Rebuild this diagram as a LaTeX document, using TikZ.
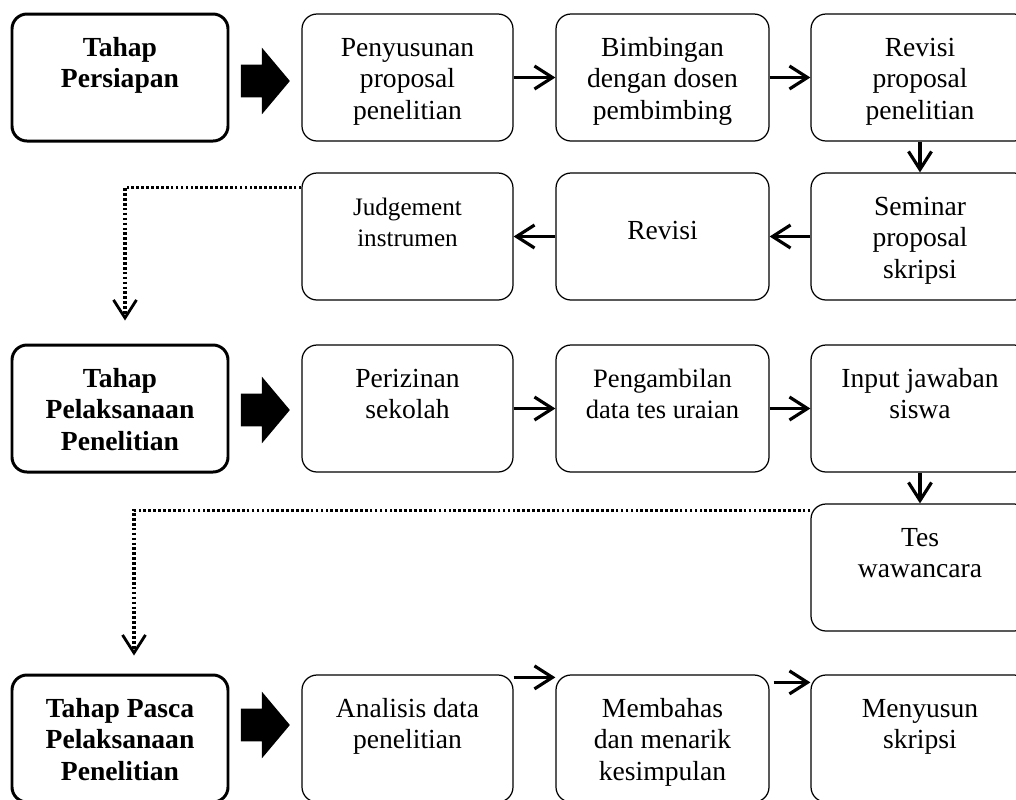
\documentclass[tikz,border=0pt]{standalone}
\usepackage{fontspec}
\setmainfont{Liberation Serif}
\usetikzlibrary{arrows.meta,calc,shapes.arrows}

% text block, top aligned in a box
\newcommand{\boxtxt}[1]{\vbox to 1.75cm{\hsize=4.1cm\parindent=0pt\centering\strut#1\par\vss}}

\begin{document}
\begin{tikzpicture}[
    font=\fontsize{15.7}{18.1}\selectfont,
    stepbox/.style={draw=black, rounded corners=0.3cm, line width=0.7pt, minimum height=2.54cm, minimum width=4.26cm, inner sep=0pt},
    phasebox/.style={stepbox, line width=1.7pt, minimum width=4.32cm, font=\fontsize{15.7}{18.1}\selectfont\bfseries},
    arrow/.style={-{Straight Barb[length=3.6mm,width=4.6mm]}, line width=1.8pt},
    dotarrow/.style={-{Straight Barb[length=3.6mm,width=4.6mm,line width=1.6pt]}, line width=1.9pt, dash pattern=on 1.5pt off 1.3pt},
    bigarrow/.style={single arrow, fill=black, draw=none, minimum height=0.98cm, single arrow head extend=0.34cm, single arrow tip angle=100, inner xsep=0pt, inner ysep=0.32cm}
]
\useasboundingbox (0,0) rectangle (20.32,-15.98);
\clip (0,0) rectangle (20.32,-15.98);

% persiapan
\node[phasebox] (tprs) at (2.40,-1.55) {\boxtxt{Tahap\\Persiapan}};
\node[stepbox, minimum width=4.22cm] (pen) at (8.15,-1.55) {\boxtxt{Penyusunan\\proposal\\penelitian}};
\node[stepbox] (bimb) at (13.25,-1.55) {\boxtxt{Bimbingan\\dengan dosen\\pembimbing}};
\node[stepbox, minimum width=4.36cm] (revp) at (18.40,-1.55) {\boxtxt{Revisi\\proposal\\penelitian}};
\node[stepbox, minimum width=4.36cm] (sem) at (18.40,-4.73) {\boxtxt{Seminar\\proposal\\skripsi}};
\node[stepbox] (rev) at (13.25,-4.73) {\raisebox{0.24cm}{Revisi}};
\node[stepbox, minimum width=4.22cm, font=\fontsize{14.3}{18.1}\selectfont] (judg) at (8.15,-4.73) {\boxtxt{Judgement\\instrumen}};
\node[bigarrow] (ar1) at (5.17,-1.62) {};
\draw[arrow] (pen.east) -- (bimb.west);
\draw[arrow] (bimb.east) -- (revp.west);
\draw[arrow] (revp.south) -- (sem.north);
\draw[arrow] (sem.west) -- (rev.east);
\draw[arrow] (rev.west) -- (judg.east);

% pelaksanaan
\node[phasebox] (tpel) at (2.40,-8.17) {\boxtxt{Tahap\\Pelaksanaan\\Penelitian}};
\node[stepbox, minimum width=4.22cm] (peri) at (8.15,-8.17) {\boxtxt{Perizinan\\sekolah}};
\node[stepbox, font=\fontsize{15.1}{18.1}\selectfont] (peng) at (13.25,-8.17) {\boxtxt{Pengambilan\\data tes uraian}};
\node[stepbox, minimum width=4.36cm] (inp) at (18.40,-8.17) {\boxtxt{Input jawaban\\siswa}};
\node[stepbox, minimum width=4.36cm] (tes) at (18.40,-11.35) {\boxtxt{Tes\\wawancara}};
\node[bigarrow] (ar2) at (5.17,-8.20) {};
\draw[dotarrow] ($(judg.north west)+(0,-0.3)$) -| ($(tpel.north)+(0.1,0.46)$);
\draw[arrow] (peri.east) -- (peng.west);
\draw[arrow] (peng.east) -- (inp.west);
\draw[arrow] (inp.south) -- (tes.north);

% pasca
\node[phasebox] (tpas) at (2.40,-14.77) {\boxtxt{Tahap Pasca\\Pelaksanaan\\Penelitian}};
\node[stepbox, minimum width=4.22cm] (anal) at (8.15,-14.77) {\boxtxt{Analisis data\\penelitian}};
\node[stepbox] (memb) at (13.25,-14.77) {\boxtxt{Membahas\\dan menarik\\kesimpulan}};
\node[stepbox, minimum width=4.36cm] (meny) at (18.40,-14.77) {\boxtxt{Menyusun\\skripsi}};
\node[bigarrow] (ar3) at (5.17,-14.50) {};
\draw[dotarrow] ($(tes.north west)+(0,-0.14)$) -| ($(tpas.north)+(0.28,0.36)$);
\draw[arrow] ($(anal.north east)+(0,-0.06)$) -- ($(memb.north west)+(0,-0.06)$);
\draw[arrow] ($(memb.north east)+(0.08,-0.16)$) -- ($(meny.north west)+(0,-0.16)$);
\end{tikzpicture}
\end{document}
